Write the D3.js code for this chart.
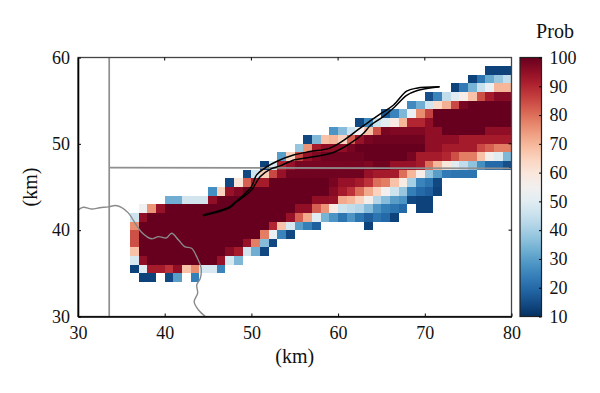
<!DOCTYPE html>
<html>
<head>
<meta charset="utf-8">
<script src="https://cdn.jsdelivr.net/npm/d3@7"></script>
<style>
  html, body { margin: 0; padding: 0; background: #fff; }
  text { font-family: "Liberation Serif", serif; fill: #111; }
</style>
</head>
<body>
<div class="canvas"></div>
<script>
/*---------------------------
  DATA
---------------------------*/
const xTicks = [30, 40, 50, 60, 70, 80];
const yTicks = [30, 40, 50, 60];
const barTicks = [10, 20, 30, 40, 50, 60, 70, 80, 90, 100];

// lower edge of each row of cells (km), first cell of the row (km), probabilities
const rowY = [58, 57, 56, 55, 54, 53, 52, 51, 50, 49, 48, 47, 46, 45, 44, 43, 42, 41, 40, 39, 38, 37, 36, 35, 34];
const rowStart = [77, 75, 73, 70, 68, 65, 62, 59, 56, 55, 53, 51, 49, 47, 45, 40, 37, 36, 36, 36, 36, 36, 36, 36, 37];
const rowProb = [
  [13, 13, 13],
  [13, 22, 32, 38, 44],
  [13, 23, 34, 45, 52, 70, 70],
  [15, 25, 44, 50, 57, 68, 84, 92, 96, 96],
  [26, 33, 47, 63, 71, 85, 98, 100, 100, 100, 100, 100],
  [17, 25, 35, 52, 76, 86, 100, 100, 100, 100, 100, 100, 100, 100, 100],
  [14, 26, 46, 50, 58, 70, 90, 90, 95, 100, 100, 100, 100, 100, 100, 100, 100, 100],
  [28, 36, 46, 55, 68, 84, 98, 97, 97, 97, 97, 95, 95, 100, 100, 100, 100, 100, 95, 95, 95],
  [14, 35, 68, 70, 65, 82, 94, 98, 99, 99, 99, 99, 99, 99, 95, 95, 95, 95, 92, 92, 92, 92, 92, 92],
  [38, 75, 92, 95, 95, 95, 98, 100, 100, 100, 100, 100, 100, 100, 100, 95, 95, 92, 92, 92, 92, 85, 82, 78, 78],
  [30, 65, 85, 94, 97, 99, 99, 99, 99, 99, 100, 100, 100, 100, 100, 98, 92, 92, 92, 90, 84, 78, 78, 68, 56, 50, 35],
  [13, 48, 90, 94, 98, 98, 98, 98, 98, 98, 98, 98, 97, 99, 99, 94, 94, 94, 92, 80, 70, 60, 50, 44, 37, 27, 20, 20, 15],
  [14, 46, 66, 85, 94, 99, 99, 99, 99, 99, 99, 99, 99, 99, 94, 92, 92, 92, 80, 70, 57, 38, 30, 23, 22, 22, 22],
  [14, 60, 82, 92, 92, 100, 100, 100, 100, 100, 100, 100, 98, 94, 94, 92, 88, 80, 78, 68, 58, 40, 25, 22, 14],
  [27, 65, 94, 97, 100, 100, 100, 100, 100, 100, 100, 100, 100, 100, 96, 92, 88, 80, 72, 65, 55, 46, 38, 24, 20, 18, 13],
  [33, 33, 47, 47, 47, 95, 100, 100, 100, 100, 100, 100, 100, 100, 100, 100, 100, 95, 95, 94, 72, 70, 65, 56, 42, 36, 30, 28, 14, 13, 13],
  [54, 75, 94, 100, 100, 100, 100, 100, 100, 100, 100, 100, 100, 100, 100, 100, 100, 100, 95, 95, 82, 75, 58, 46, 44, 42, 36, 28, 24, 22, 20, null, 13, 13],
  [46, 95, 100, 100, 100, 100, 100, 100, 100, 100, 100, 100, 100, 100, 100, 100, 100, 100, 94, 82, 72, 50, 34, 28, 22, 28, 22, 18, 22, 20, 13],
  [76, 100, 100, 100, 100, 100, 100, 100, 100, 100, 100, 100, 100, 100, 100, 100, 90, 68, 48, 30, 24, 18, null, null, null, null, null, 13],
  [84, 100, 100, 100, 100, 100, 100, 100, 100, 100, 100, 100, 100, 100, 100, 78, 52, 25, 14],
  [84, 100, 100, 100, 100, 100, 100, 100, 100, 100, 100, 100, 100, 94, 78, 36, 14],
  [68, 100, 100, 100, 100, 100, 100, 100, 100, 100, 100, 96, 92, 47, 33, 14],
  [48, 95, 100, 100, 100, 100, 100, 100, 100, 100, 94, 48, 35],
  [13, 50, 92, 92, 88, 95, 68, 76, 48, 48, 25],
  [13, 13, null, 14, 30, null, 24]
];

// map overlays, [km, km]
const roadV = [[33.6, 30], [33.6, 60]];
const roadH = [[33.6, 47.25], [80, 47.15]];
const boundary = [
  [30, 42.3], [30.6, 42.65], [31.6, 42.45], [32.5, 42.6], [33.5, 42.7], [34.3, 42.85], [35, 42.65],
  [35.8, 42], [36.6, 40.8], [37.3, 39.8], [38.5, 39], [39.3, 39.25], [40.2, 39.1], [40.8, 39.65],
  [41.6, 38.85], [42.3, 38.1], [43.1, 37.9], [43.7, 36.9], [44.2, 35.6], [44.1, 34.4], [43.7, 33.65],
  [43.8, 32.7], [43.4, 31.7], [43.9, 30.75], [44.7, 30]
];
const trackStart = [[44.4, 41.7], [47.5, 42.65], [48.1, 43.2]];
const trackUpper = [
  [48.1, 43.2], [50, 45.05], [50.6, 46.4], [51.8, 47.35], [52.9, 47.95], [54.85, 48.7], [56.75, 49.1],
  [59.05, 49.5], [61, 50.65], [62.5, 51.8], [63.7, 52.65], [65, 53.55], [66.4, 54.5], [67.9, 56.1],
  [69.05, 56.45], [71.7, 56.6]
];
const trackLower = [
  [48.1, 43.15], [50, 44.65], [51, 46.2], [52.15, 47.05], [53.3, 47.45], [55, 48.15], [57.15, 48.5],
  [59.45, 49], [61.4, 50.05], [62.9, 51.2], [63.7, 52.1], [65.2, 53.15], [66.55, 54.3], [67.9, 55.6],
  [69.05, 56.15], [71.7, 56.6]
];

/*---------------------------
  VARIABLES
---------------------------*/
const plot = { left: 78, right: 511.5, top: 57.5, bottom: 316.5 };
const bar = { left: 520, right: 541.5 };

const svg = d3.select('.canvas')
  .append('svg')
  .attr('width', 600)
  .attr('height', 393)
  .style('display', 'block');

const x = d3.scaleLinear().domain([30, 80]).range([plot.left, plot.right]);
const y = d3.scaleLinear().domain([30, 60]).range([plot.bottom, plot.top]);
const barY = d3.scaleLinear().domain([10, 100]).range([plot.bottom, plot.top]);
const color = d3.scaleSequential(t => d3.interpolateRdBu(1 - t)).domain([10, 100]);

// flatten the rows into cells
const cells = rowY.flatMap((ry, i) => rowProb[i].map((p, j) => ({ km: rowStart[i] + j, ry, p })))
  .filter(d => d.p !== null);

svg.append('g')
  .attr('shape-rendering', 'crispEdges')
  .selectAll('rect')
  .data(cells)
  .enter()
  .append('rect')
  .attr('x', d => x(d.km))
  .attr('y', d => y(d.ry + 1))
  .attr('width', d => x(d.km + 1) - x(d.km))
  .attr('height', d => y(d.ry) - y(d.ry + 1))
  .attr('fill', d => color(d.p));

// overlays
const line = d3.line().x(d => x(d[0])).y(d => y(d[1]));
const lineCurve = d3.line().x(d => x(d[0])).y(d => y(d[1])).curve(d3.curveCatmullRom);

[roadV, roadH].forEach((pts) => {
  svg.append('path').attr('d', line(pts)).attr('fill', 'none')
    .attr('stroke', '#8f8f8f').attr('stroke-width', 1.7);
});
svg.append('path').attr('d', lineCurve(boundary)).attr('fill', 'none')
  .attr('stroke', '#8a8a8a').attr('stroke-width', 1.4);
svg.append('path').attr('d', lineCurve(trackStart)).attr('fill', 'none')
  .attr('stroke', '#000').attr('stroke-width', 2.2);
[trackUpper, trackLower].forEach((pts) => {
  svg.append('path').attr('d', lineCurve(pts)).attr('fill', 'none')
    .attr('stroke', '#000').attr('stroke-width', 1.5);
});

// frame and axes
svg.append('rect')
  .attr('x', plot.left).attr('y', plot.top)
  .attr('width', plot.right - plot.left).attr('height', plot.bottom - plot.top)
  .attr('fill', 'none').attr('stroke', '#444').attr('stroke-width', 1.3);

const styleAxis = (g) => {
  g.select('.domain').attr('stroke', '#000').attr('stroke-width', 1.6);
  g.selectAll('.tick line').attr('stroke', '#000').attr('stroke-width', 1);
  g.selectAll('.tick text').style('font-size', '18px');
};

svg.append('g')
  .attr('transform', `translate(0, ${plot.bottom})`)
  .call(d3.axisBottom(x).tickValues(xTicks).tickSize(-3).tickPadding(10).tickSizeOuter(0))
  .call(styleAxis);

svg.append('g')
  .attr('transform', `translate(${plot.left}, 0)`)
  .call(d3.axisLeft(y).tickValues(yTicks).tickSize(-3).tickPadding(8).tickSizeOuter(0))
  .call(styleAxis);

// small ticks on the top and right sides
svg.append('g')
  .selectAll('line')
  .data(xTicks.slice(1, -1))
  .enter()
  .append('line')
  .attr('x1', d => x(d)).attr('x2', d => x(d))
  .attr('y1', plot.top).attr('y2', plot.top + 3)
  .attr('stroke', '#000');

svg.append('g')
  .selectAll('line')
  .data(yTicks.slice(1, -1))
  .enter()
  .append('line')
  .attr('x1', plot.right - 3).attr('x2', plot.right)
  .attr('y1', d => y(d)).attr('y2', d => y(d))
  .attr('stroke', '#000');

svg.append('text')
  .attr('x', (plot.left + plot.right) / 2)
  .attr('y', 363)
  .attr('text-anchor', 'middle')
  .style('font-size', '20px')
  .text('(km)');

svg.append('text')
  .attr('transform', 'translate(37, 187) rotate(-90)')
  .attr('text-anchor', 'middle')
  .style('font-size', '20px')
  .text('(km)');

// colour bar
const gradient = svg.append('defs')
  .append('linearGradient')
  .attr('id', 'prob-bar')
  .attr('x1', 0).attr('x2', 0).attr('y1', 1).attr('y2', 0);

gradient.selectAll('stop')
  .data(d3.range(0, 1.001, 0.05))
  .enter()
  .append('stop')
  .attr('offset', d => d)
  .attr('stop-color', d => color(10 + d * 90));

svg.append('rect')
  .attr('x', bar.left).attr('y', plot.top)
  .attr('width', bar.right - bar.left).attr('height', plot.bottom - plot.top)
  .attr('fill', 'url(#prob-bar)')
  .attr('stroke', '#222').attr('stroke-width', 1.2);

svg.append('g')
  .attr('transform', `translate(${bar.right}, 0)`)
  .call(d3.axisRight(barY).tickValues(barTicks).tickSize(-2.5).tickPadding(8).tickSizeOuter(0))
  .call((g) => {
    g.select('.domain').remove();
    g.selectAll('.tick line').attr('stroke', '#000').attr('stroke-width', 1);
    g.selectAll('.tick text').style('font-size', '18px');
  });

svg.append('text')
  .attr('x', 555)
  .attr('y', 38)
  .attr('text-anchor', 'middle')
  .style('font-size', '20px')
  .text('Prob');
</script>
</body>
</html>
